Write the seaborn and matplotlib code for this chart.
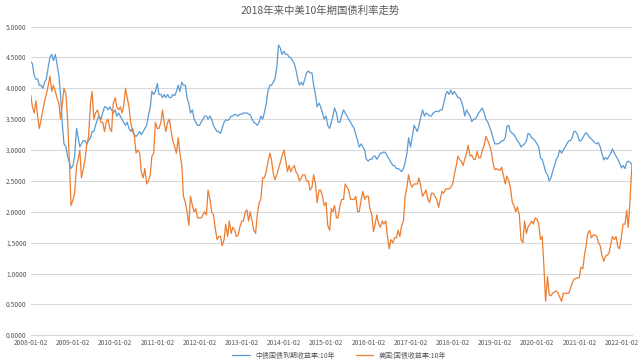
import numpy as np
import pandas as pd
import matplotlib
matplotlib.use("Agg")
import matplotlib.pyplot as plt
from matplotlib.ticker import FormatStrFormatter
import seaborn as sns

# semi-monthly samples (1st and 15th), 2008-01 .. 2022-04
cn_yield = [
    4.43, 4.40, 4.20, 4.15, 4.15, 4.05, 4.05, 4.00, 4.10, 4.15, 4.35, 4.50, 4.55, 4.45, 4.55, 4.40, 4.20, 3.90, 3.40, 3.10, 3.05, 2.90, 2.80, 2.70,  # 2008
    2.75, 2.90, 3.35, 3.20, 3.05, 3.10, 3.15, 3.15, 3.10, 3.15, 3.20, 3.30, 3.30, 3.40, 3.50, 3.55, 3.50, 3.60, 3.70, 3.70, 3.65, 3.70, 3.65, 3.60,  # 2009
    3.65, 3.55, 3.60, 3.55, 3.50, 3.45, 3.40, 3.45, 3.35, 3.30, 3.35, 3.25, 3.22, 3.25, 3.30, 3.25, 3.30, 3.35, 3.40, 3.55, 3.70, 3.95, 3.90, 3.95,  # 2010
    4.08, 3.90, 3.90, 3.85, 3.90, 3.85, 3.90, 3.85, 3.85, 3.90, 3.88, 3.95, 4.05, 3.95, 4.10, 4.05, 4.05, 3.85, 3.75, 3.60, 3.65, 3.50, 3.45, 3.40,  # 2011
    3.40, 3.45, 3.50, 3.55, 3.55, 3.50, 3.55, 3.50, 3.40, 3.35, 3.30, 3.30, 3.27, 3.35, 3.45, 3.49, 3.48, 3.50, 3.55, 3.55, 3.58, 3.57, 3.55, 3.58,  # 2012
    3.58, 3.60, 3.60, 3.60, 3.58, 3.57, 3.50, 3.45, 3.43, 3.40, 3.45, 3.55, 3.50, 3.60, 3.75, 3.95, 4.05, 4.05, 4.10, 4.15, 4.35, 4.70, 4.65, 4.55,  # 2013
    4.60, 4.55, 4.55, 4.50, 4.50, 4.45, 4.40, 4.30, 4.15, 4.05, 4.10, 4.05, 4.15, 4.25, 4.28, 4.25, 4.25, 4.05, 3.90, 3.70, 3.76, 3.70, 3.60, 3.50,  # 2014
    3.55, 3.40, 3.35, 3.45, 3.55, 3.68, 3.60, 3.45, 3.45, 3.55, 3.65, 3.60, 3.55, 3.50, 3.45, 3.40, 3.35, 3.25, 3.15, 3.05, 3.10, 3.05, 3.00, 2.85,  # 2015
    2.82, 2.85, 2.85, 2.90, 2.90, 2.85, 2.90, 2.95, 2.95, 2.97, 2.95, 2.90, 2.85, 2.80, 2.75, 2.75, 2.70, 2.70, 2.68, 2.65, 2.70, 2.80, 2.95, 3.20,  # 2016
    3.05, 3.20, 3.40, 3.35, 3.30, 3.40, 3.55, 3.65, 3.55, 3.60, 3.58, 3.55, 3.55, 3.60, 3.62, 3.63, 3.62, 3.65, 3.65, 3.75, 3.90, 3.95, 3.90, 3.97,  # 2017
    3.90, 3.95, 3.90, 3.85, 3.85, 3.80, 3.70, 3.55, 3.65, 3.60, 3.55, 3.46, 3.50, 3.50, 3.55, 3.60, 3.65, 3.68, 3.60, 3.50, 3.45, 3.38, 3.30, 3.20,  # 2018
    3.10, 3.10, 3.10, 3.12, 3.15, 3.15, 3.20, 3.38, 3.40, 3.30, 3.27, 3.25, 3.20, 3.15, 3.11, 3.05, 3.08, 3.10, 3.15, 3.27, 3.25, 3.20, 3.18, 3.15,  # 2019
    3.10, 3.05, 2.87, 2.85, 2.75, 2.65, 2.60, 2.50, 2.55, 2.65, 2.75, 2.85, 2.90, 3.00, 2.95, 3.00, 3.05, 3.10, 3.15, 3.15, 3.20, 3.30, 3.30, 3.25,  # 2020
    3.15, 3.15, 3.20, 3.25, 3.28, 3.25, 3.20, 3.18, 3.15, 3.12, 3.10, 3.12, 3.05, 2.95, 2.84, 2.88, 2.85, 2.90, 2.95, 3.02, 2.95, 2.90, 2.85, 2.79,  # 2021
    2.71, 2.75, 2.70, 2.80, 2.82, 2.80, 2.77,  # 2022
]
us_yield = [
    3.90, 3.70, 3.60, 3.80, 3.55, 3.35, 3.50, 3.65, 3.80, 3.90, 4.05, 4.20, 3.95, 4.05, 3.95, 3.85, 3.75, 3.50, 3.75, 4.00, 3.90, 3.50, 2.80, 2.10,  # 2008
    2.20, 2.30, 2.75, 2.85, 3.00, 2.55, 2.70, 2.85, 3.10, 3.20, 3.75, 3.95, 3.50, 3.60, 3.65, 3.55, 3.45, 3.45, 3.30, 3.45, 3.50, 3.35, 3.30, 3.75,  # 2009
    3.85, 3.70, 3.65, 3.70, 3.60, 3.70, 4.00, 3.85, 3.70, 3.45, 3.30, 3.25, 2.95, 3.00, 2.95, 2.65, 2.55, 2.70, 2.45, 2.50, 2.60, 2.90, 2.95, 3.45,  # 2010
    3.35, 3.35, 3.45, 3.65, 3.45, 3.30, 3.45, 3.50, 3.30, 3.15, 3.05, 2.95, 3.20, 2.95, 2.75, 2.25, 2.15, 2.00, 1.78, 2.25, 2.10, 2.00, 2.05, 1.90,  # 2011
    1.90, 1.90, 1.95, 2.00, 1.95, 2.35, 2.20, 2.00, 1.95, 1.75, 1.55, 1.60, 1.60, 1.45, 1.55, 1.80, 1.60, 1.85, 1.65, 1.75, 1.70, 1.60, 1.62, 1.75,  # 2012
    1.85, 1.85, 2.00, 2.03, 1.85, 2.00, 1.85, 1.70, 1.65, 1.95, 2.15, 2.20, 2.55, 2.55, 2.65, 2.80, 2.95, 2.85, 2.62, 2.52, 2.60, 2.70, 2.80, 2.90,  # 2013
    3.00, 2.85, 2.65, 2.75, 2.65, 2.70, 2.75, 2.65, 2.60, 2.50, 2.55, 2.60, 2.60, 2.50, 2.50, 2.35, 2.40, 2.60, 2.45, 2.15, 2.35, 2.35, 2.25, 2.10,  # 2014
    2.15, 1.78, 1.70, 2.05, 2.00, 2.10, 1.90, 1.90, 2.10, 2.20, 2.20, 2.45, 2.40, 2.35, 2.20, 2.20, 2.20, 2.25, 2.00, 2.00, 2.20, 2.33, 2.20, 2.25,  # 2015
    2.25, 2.05, 1.95, 1.68, 1.80, 1.95, 1.80, 1.75, 1.85, 1.80, 1.85, 1.60, 1.40, 1.55, 1.50, 1.58, 1.58, 1.70, 1.60, 1.77, 1.85, 2.25, 2.40, 2.60,  # 2016
    2.45, 2.40, 2.45, 2.45, 2.45, 2.55, 2.40, 2.25, 2.30, 2.35, 2.20, 2.15, 2.30, 2.30, 2.25, 2.20, 2.07, 2.20, 2.33, 2.30, 2.37, 2.37, 2.37, 2.40,  # 2017
    2.45, 2.60, 2.75, 2.90, 2.85, 2.82, 2.75, 2.85, 2.95, 3.08, 2.90, 2.92, 2.85, 2.85, 2.98, 2.87, 2.88, 3.00, 3.08, 3.22, 3.15, 3.08, 2.98, 2.80,  # 2018
    2.68, 2.70, 2.68, 2.67, 2.72, 2.60, 2.45, 2.58, 2.50, 2.40, 2.15, 2.10, 2.00, 2.08, 1.95, 1.55, 1.50, 1.85, 1.65, 1.75, 1.80, 1.85, 1.80, 1.90,  # 2019
    1.88, 1.80, 1.55, 1.60, 1.10, 0.55, 0.95, 0.65, 0.64, 0.68, 0.70, 0.72, 0.68, 0.62, 0.55, 0.68, 0.68, 0.68, 0.68, 0.75, 0.85, 0.90, 0.92, 0.93,  # 2020
    0.93, 1.10, 1.08, 1.30, 1.45, 1.65, 1.70, 1.58, 1.62, 1.63, 1.60, 1.50, 1.45, 1.30, 1.20, 1.28, 1.30, 1.33, 1.48, 1.60, 1.55, 1.60, 1.43, 1.40,  # 2021
    1.60, 1.80, 1.80, 2.02, 1.75, 2.15, 2.76,  # 2022
]
dates = pd.date_range("2008-01-01", "2022-04-01", freq="SMS")
series_names = ["中债国债到期收益率:10年", "美国:国债收益率:10年"]
series_colors = ["#5B9BD5", "#ED7D31"]
title = "2018年来中美10年期国债利率走势"
tick_years = list(range(2008, 2023))

df = pd.DataFrame({
    "date": np.concatenate([dates, dates]),
    "value": cn_yield + us_yield,
    "series": [series_names[0]] * len(dates) + [series_names[1]] * len(dates),
})

sns.set_style("white")
plt.rcParams["font.family"] = ["Noto Sans CJK SC", "DejaVu Sans"]

fig = plt.figure(figsize=(6.4, 3.64), dpi=100)
ax = fig.add_axes([0.048, 0.079, 0.94, 0.848])
sns.lineplot(
    data=df, x="date", y="value", hue="series",
    palette=series_colors, hue_order=series_names,
    linewidth=0.9, ax=ax, legend=True,
)

ax.set_ylim(0, 5)
ax.set_yticks(np.arange(0, 5.01, 0.5))
ax.yaxis.set_major_formatter(FormatStrFormatter("%.4f"))
ax.set_xlim(pd.Timestamp("2008-01-01"), pd.Timestamp("2022-04-05"))
xt = [pd.Timestamp(f"{y}-01-02") for y in tick_years]
ax.set_xticks(xt)
ax.set_xticklabels([t.strftime("%Y-%m-%d") for t in xt])
ax.grid(axis="y", color="#D9D9D9", linewidth=0.8)
ax.set_axisbelow(True)
for s in ["top", "right", "left"]:
    ax.spines[s].set_visible(False)
ax.spines["bottom"].set_color("#D9D9D9")
ax.tick_params(axis="both", length=0, labelsize=4.8, colors="#595959", pad=3)
ax.set_xlabel("")
ax.set_ylabel("")

fig.suptitle(title, y=0.985, fontsize=7.5, color="#595959")

ax.legend_.remove()
handles, labels = ax.get_legend_handles_labels()
fig.legend(
    handles, labels, loc="lower center", bbox_to_anchor=(0.53, -0.005), ncol=2,
    frameon=False, fontsize=5, labelcolor="#595959",
    handlelength=2.5, columnspacing=3,
)

fig.savefig("out.png", dpi=100)
